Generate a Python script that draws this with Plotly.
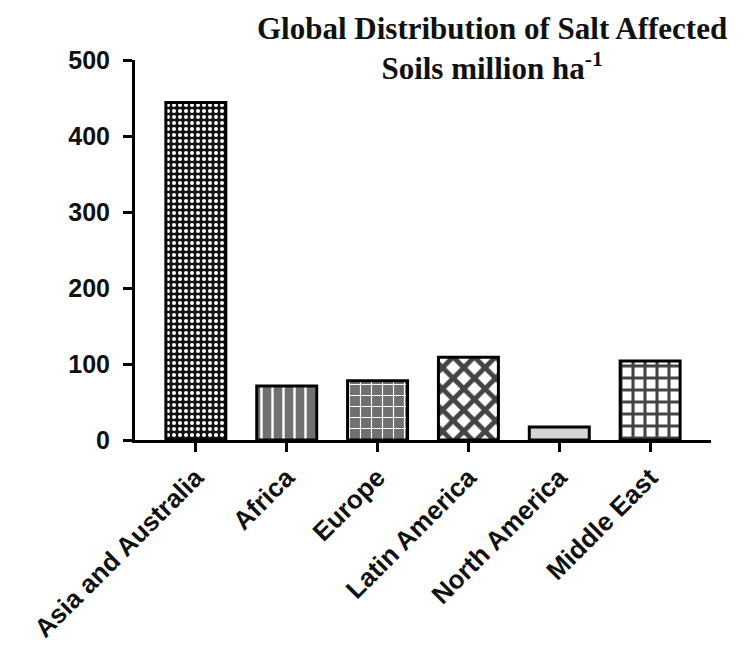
import plotly.graph_objects as go

regions = ["Asia and Australia", "Africa", "Europe", "Latin America", "North America", "Middle East"]
area_mha = [444, 71, 78, 109, 17, 104]

pattern_shapes = [".", "|", "+", "x", "", "+"]
pattern_fg = ["#8a8a8a", "#000000", "#000000", "#000000", "#d4d4d4", "#000000"]
pattern_bg = ["#111111", "#707070", "#707070", "#ffffff", "#d4d4d4", "#ffffff"]
pattern_size = [6, 11, 11, 15, 8, 12]
pattern_solid = [0.35, 0.22, 0.2, 0.55, 0.3, 0.45]

fig = go.Figure(go.Bar(
    x=regions,
    y=area_mha,
    width=0.66,
    marker=dict(
        color=pattern_bg,
        line=dict(color="#000000", width=3),
        pattern=dict(shape=pattern_shapes, fgcolor=pattern_fg, bgcolor=pattern_bg,
                     size=pattern_size, solidity=pattern_solid, fillmode="overlay",
                     fgopacity=1),
    ),
))

fig.update_layout(
    width=745, height=654,
    paper_bgcolor="white", plot_bgcolor="white",
    margin=dict(l=127, r=42, t=52, b=222),
    showlegend=False,
    font=dict(family="Liberation Sans, Arial, sans-serif", color="#111111"),
    xaxis=dict(
        range=[-0.67, 5.67],
        automargin=False,
        showline=True, linecolor="#000000", linewidth=3,
        ticks="outside", ticklen=9, tickwidth=3, tickcolor="#000000",
        tickangle=-45,
        tickfont=dict(size=26, family="Liberation Sans, Arial, sans-serif", color="#111111", weight="bold"),
        showgrid=False, zeroline=False,
    ),
    yaxis=dict(
        range=[0, 500],
        automargin=False,
        tickvals=[0, 100, 200, 300, 400, 500],
        showline=True, linecolor="#000000", linewidth=3,
        ticks="outside", ticklen=9, tickwidth=3, tickcolor="#000000",
        ticklabelstandoff=8,
        tickfont=dict(size=25, family="Liberation Sans, Arial, sans-serif", color="#111111", weight="bold"),
        showgrid=False, zeroline=False,
    ),
    annotations=[dict(
        text="<b>Global Distribution of Salt Affected<br>Soils million ha<sup>-1</sup></b>",
        x=0.62, y=1.135, xref="paper", yref="paper",
        xanchor="center", yanchor="top",
        showarrow=False, align="center",
        font=dict(family="Liberation Serif, Times New Roman, serif", size=31, color="#111111"),
    )],
)

fig.write_html("out.html")
